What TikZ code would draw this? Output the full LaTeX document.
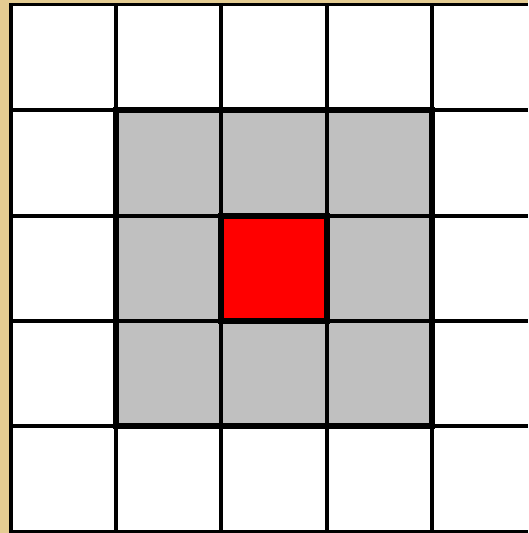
\documentclass[tikz,border=0pt]{standalone}
\definecolor{tan}{RGB}{228,204,146}
\definecolor{cellgray}{RGB}{192,192,192}
\begin{document}
\begin{tikzpicture}[x=1pt,y=-1pt,
  thinline/.style={line width=3.4pt,black},
  thickline/.style={line width=5.5pt,black}]
\useasboundingbox (0,0) rectangle (528,533);
\fill[white] (0,0) rectangle (528,533);
\fill[tan] (0,0) rectangle (9.5,533);
\fill[tan] (0,0) rectangle (528,3);
\fill[cellgray] (116,110) rectangle (432,426);
\fill[red] (221,216) rectangle (327,321);
\foreach \x in {11,116,221,327,432} \draw[thinline] (\x,4.5) -- (\x,533);
\foreach \y in {4.5,110,216,321,426,531.5} \draw[thinline] (9.3,\y) -- (528,\y);
\draw[thickline] (116,110) rectangle (432,426);
\draw[thickline] (221,216) rectangle (327,321);
\end{tikzpicture}
\end{document}
